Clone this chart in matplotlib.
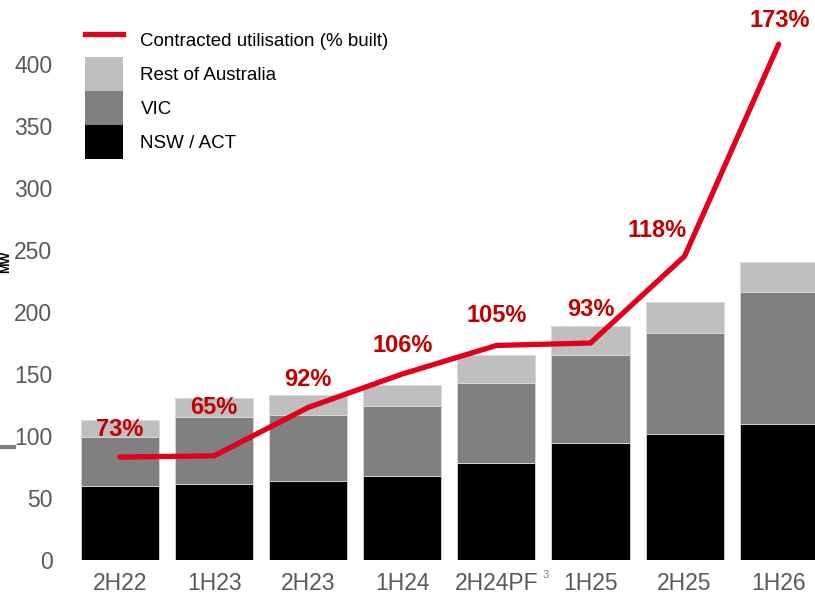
import matplotlib
matplotlib.use("Agg")
import matplotlib.pyplot as plt
from matplotlib.lines import Line2D
from matplotlib.patches import Patch
import numpy as np

plt.rcParams['font.family'] = ['Liberation Sans', 'DejaVu Sans']

categories = ["2H22", "1H23", "2H23", "1H24", "2H24PF", "1H25", "2H25", "1H26"]
nsw_act = [60, 61, 64, 68, 78, 94, 102, 110]
vic = [39, 54, 53, 56, 65, 71, 81, 106]
rest_aus = [14, 16, 16, 17, 22, 24, 25, 24]
contracted_mw = [83, 84, 123, 150, 173, 175, 245, 416]
utilisation_labels = ["73%", "65%", "92%", "106%", "105%", "93%", "118%", "173%"]
yticks = [0, 50, 100, 150, 200, 250, 300, 350, 400]

# label offsets in pixels (dx, dy) relative to line points
label_offsets = [(0, 28), (0, 48), (0, 28), (0, 29), (0, 30), (0, 33), (-28, 26), (1, 24)]

W, H = 815, 598
fig = plt.figure(figsize=(W / 100, H / 100), dpi=100)
ax = fig.add_axes([63.5 / W, 38 / H, 751.5 / W, 558 / H])

x = np.arange(len(categories))
bw = 0.83
c_nsw, c_vic, c_rest = "#000000", "#808080", "#BFBFBF"
ec = "#D9D9D9"
ax.bar(x, nsw_act, bw, color=c_nsw, edgecolor=ec, linewidth=0.6, zorder=2)
b1 = np.array(nsw_act)
ax.bar(x, vic, bw, bottom=b1, color=c_vic, edgecolor=ec, linewidth=0.6, zorder=2)
b2 = b1 + np.array(vic)
ax.bar(x, rest_aus, bw, bottom=b2, color=c_rest, edgecolor=ec, linewidth=0.6, zorder=2)

line_color = "#E2001A"
ax.plot(x, contracted_mw, color=line_color, lw=3.8, solid_capstyle="round",
        solid_joinstyle="miter", zorder=3)

for xi, yi, lab, (dx, dy) in zip(x, contracted_mw, utilisation_labels, label_offsets):
    ax.annotate(lab, (xi, yi), xytext=(dx, dy), textcoords="offset pixels",
                ha="center", va="center", fontsize=17, fontweight="bold",
                color="#C00000", zorder=4)

ax.set_xlim(-0.6, (815 - 120) / 94.1)
ax.set_ylim(0, 450)
ax.set_yticks(yticks)
ax.set_xticks(x)
ax.set_xticklabels(categories)
ax.tick_params(axis="both", length=0, labelsize=16.5, labelcolor="#595959")
ax.tick_params(axis="y", pad=8)
ax.tick_params(axis="x", pad=9)
for s in ax.spines.values():
    s.set_visible(False)

# superscript note marker
ax.annotate("3", (4, 0), xytext=(49, -15), textcoords="offset pixels",
            ha="center", va="center", fontsize=8, color="#7F7F7F",
            annotation_clip=False)

handles = [
    Line2D([0], [0], color=line_color, lw=3.8),
    Patch(facecolor=c_rest, edgecolor="none"),
    Patch(facecolor=c_vic, edgecolor="none"),
    Patch(facecolor=c_nsw, edgecolor="none"),
]
labels = ["Contracted utilisation (% built)", "Rest of Australia", "VIC", "NSW / ACT"]
leg = ax.legend(handles, labels, loc="upper left",
                bbox_to_anchor=((85 - 63.5) / 751.5, 1 - 21 / 558),
                frameon=False, fontsize=13.5, handlelength=2.0, handleheight=2.41,
                labelspacing=0, handletextpad=0.96, borderpad=0, borderaxespad=0)

# axis title at the left edge (mostly cropped in the reference)
fig.text(0.5 / W, 1 - 262 / H, "MW", rotation=90, ha="left", va="center",
         fontsize=9, fontweight="bold", color="#000000")
fig.add_artist(Line2D([0, 14 / W], [1 - 447 / H, 1 - 447 / H], color="#808080",
                      lw=3, transform=fig.transFigure))

fig.savefig("out.png", dpi=100)
